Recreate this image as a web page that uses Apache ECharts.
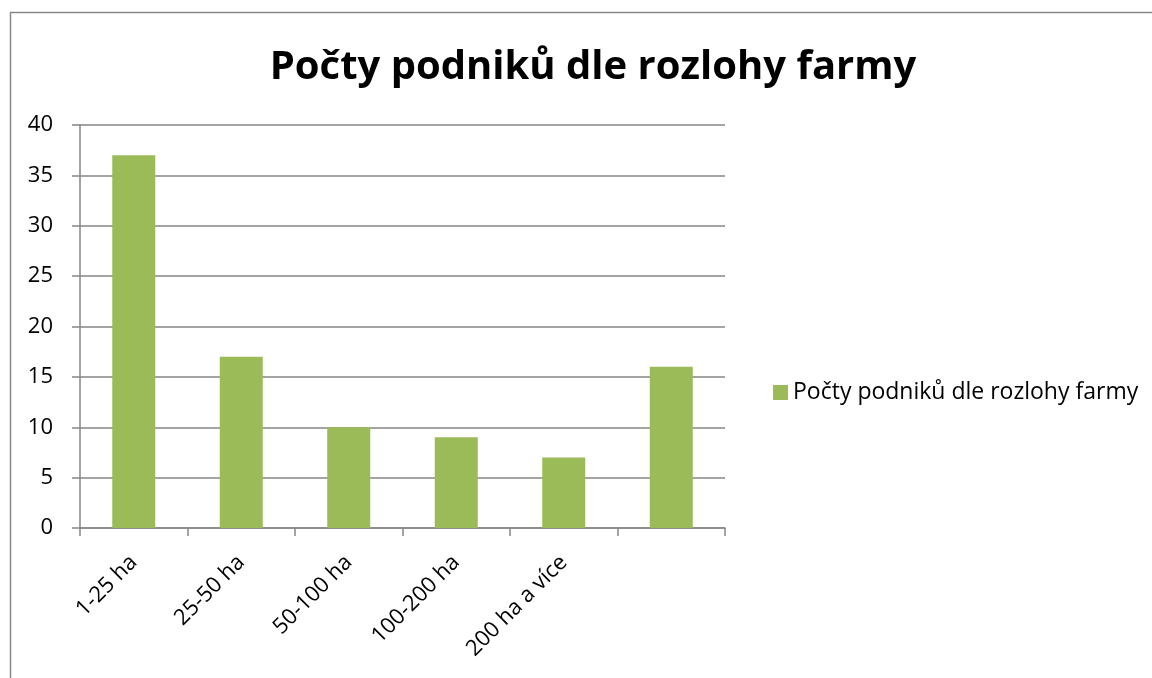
<!DOCTYPE html>
<html>
<head>
<meta charset="utf-8">
<script src="https://cdn.jsdelivr.net/npm/echarts@6/dist/echarts.min.js"></script>
<style>
  html, body { margin: 0; padding: 0; background: #fff; }
  #chart { width: 1152px; height: 678px; }
</style>
</head>
<body>
<div id="chart"></div>
<script>
// data
const categories = ['1-25 ha', '25-50 ha', '50-100 ha', '100-200 ha', '200 ha a více', '']
const values = [37, 17, 10, 9, 7, 16]
const seriesName = 'Počty podniků dle rozlohy farmy'
const titleText = 'Počty podniků dle rozlohy farmy'

const chart = echarts.init(document.getElementById('chart'))
const font = '"Open Sans", "DejaVu Sans", sans-serif'

const options = {
  animation: false,
  textStyle: { fontFamily: font },
  graphic: [
    {
      type: 'rect',
      shape: { x: 10.5, y: 12.5, width: 1200, height: 700 },
      style: { fill: 'none', stroke: '#878787', lineWidth: 1.5 },
      silent: true,
    },
  ],
  title: {
    text: titleText,
    left: 588,
    top: 43,
    textAlign: 'center',
    textStyle: { fontSize: 40, fontWeight: 'bold', color: '#000', fontFamily: font },
  },
  legend: {
    data: [seriesName],
    left: 768,
    top: 376,
    itemWidth: 15,
    itemHeight: 15,
    itemGap: 6,
    icon: 'rect',
    textStyle: { fontSize: 23, color: '#000', fontFamily: font },
  },
  grid: {
    left: 80,
    top: 125,
    width: 645,
    height: 403,
  },
  xAxis: {
    type: 'category',
    data: categories,
    axisLine: { show: true, lineStyle: { color: '#868686', width: 1.5 } },
    axisTick: { show: true, length: 8, alignWithLabel: false, lineStyle: { color: '#868686', width: 1.5 } },
    axisLabel: { rotate: 45, fontSize: 22, color: '#000', margin: 31, interval: 0, fontFamily: font },
  },
  yAxis: {
    type: 'value',
    min: 0,
    max: 40,
    interval: 5,
    axisLine: { show: true, lineStyle: { color: '#868686', width: 1.5 } },
    axisTick: { show: true, length: 8, inside: false, lineStyle: { color: '#868686', width: 1.5 } },
    axisLabel: { fontSize: 22, color: '#000', margin: 27, fontFamily: font },
    splitLine: { show: true, lineStyle: { color: '#868686', width: 1.5 } },
  },
  series: [
    {
      name: seriesName,
      type: 'bar',
      data: values,
      barWidth: 43,
      itemStyle: { color: '#9bbb59' },
    },
  ],
}
chart.setOption(options, true)
</script>
</body>
</html>
